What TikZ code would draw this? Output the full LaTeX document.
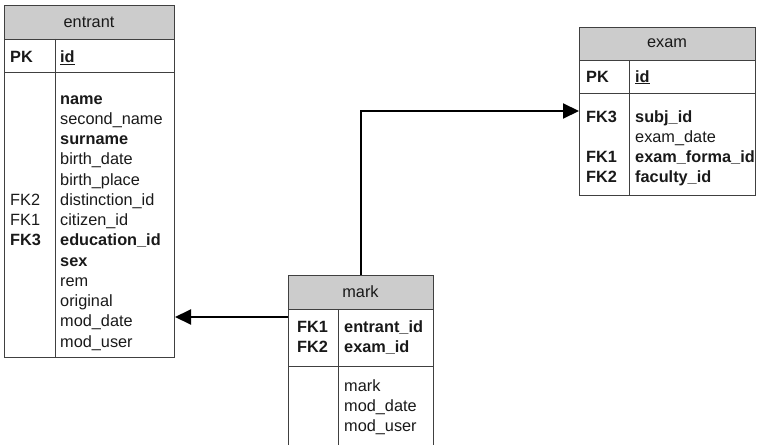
\documentclass[tikz,border=0pt]{standalone}
\usepackage{fontspec}
\setmainfont{Liberation Sans}
\usetikzlibrary{arrows.meta}
\begin{document}
\begin{tikzpicture}[x=1pt,y=-1pt,
  frame/.style={draw=black!75, line width=1pt, inner sep=0pt, anchor=north west},
  hdr/.style={frame, fill=black!20},
  txt/.style={inner sep=0pt, anchor=base west, text=black!90, font=\fontsize{16.3}{20}\selectfont},
  ttl/.style={txt, anchor=base},
  rule/.style={draw=black!75, line width=1pt},
  rel/.style={draw=black, line width=2pt, -{Triangle[length=16pt,width=15pt]}}]
\useasboundingbox (0,0) rectangle (759,444);

% ---------- entrant ----------
\node[hdr, minimum width=170pt, minimum height=34pt] (entH) at (4,5) {};
\node[frame, minimum width=170pt, minimum height=33pt] (entK) at (4,39) {};
\node[frame, minimum width=170pt, minimum height=285pt] (entB) at (4,72) {};
\draw[rule] ([xshift=51pt]entK.north west) -- ([xshift=51pt]entB.south west);
\node[ttl] (entT) at (89,28) {entrant};
\node[txt] (entPK) at (10,63) {\textbf{PK}};
\node[txt] (entId) at (60,63) {\textbf{\underline{id}}};
\foreach \t [count=\i from 0] in {\textbf{name},second\_name,\textbf{surname},birth\_date,birth\_place,distinction\_id,citizen\_id,\textbf{education\_id},\textbf{sex},rem,original,mod\_date,mod\_user}
  \node[txt] (entF\i) at (60,{104+20.25*\i}) {\t};
\node[txt] (entK2) at (10,{104+20.25*5}) {FK2};
\node[txt] (entK1) at (10,{104+20.25*6}) {FK1};
\node[txt] (entK3) at (10,{104+20.25*7}) {\textbf{FK3}};

% ---------- exam ----------
\node[hdr, minimum width=176pt, minimum height=33pt] (exH) at (579,27) {};
\node[frame, minimum width=176pt, minimum height=33pt] (exK) at (579,60) {};
\node[frame, minimum width=176pt, minimum height=102pt] (exB) at (579,93) {};
\draw[rule] ([xshift=50pt]exK.north west) -- ([xshift=50pt]exB.south west);
\node[ttl] (exT) at (667,48) {exam};
\node[txt] (exPK) at (586,82) {\textbf{PK}};
\node[txt] (exId) at (635,82) {\textbf{\underline{id}}};
\foreach \t [count=\i from 0] in {\textbf{subj\_id},exam\_date,\textbf{exam\_forma\_id},\textbf{faculty\_id}}
  \node[txt] (exF\i) at (635,{122+20*\i}) {\t};
\node[txt] (exK3) at (586,122) {\textbf{FK3}};
\node[txt] (exK1) at (586,162) {\textbf{FK1}};
\node[txt] (exK2) at (586,182) {\textbf{FK2}};

% ---------- mark ----------
\node[hdr, minimum width=145pt, minimum height=34pt] (mkH) at (288,275) {};
\node[frame, minimum width=145pt, minimum height=57pt] (mkK) at (288,309) {};
\node[frame, minimum width=145pt, minimum height=84pt] (mkB) at (288,366) {};
\draw[rule] ([xshift=50pt]mkK.north west) -- ([xshift=50pt]mkB.south west);
\node[ttl] (mkT) at (360.5,297) {mark};
\node[txt] (mkK1) at (297,332) {\textbf{FK1}};
\node[txt] (mkK2) at (297,352.5) {\textbf{FK2}};
\node[txt] (mkF0) at (344,332) {\textbf{entrant\_id}};
\node[txt] (mkF1) at (344,352.5) {\textbf{exam\_id}};
\foreach \t [count=\i from 0] in {mark,mod\_date,mod\_user}
  \node[txt] (mkG\i) at (344,{391+20.3*\i}) {\t};

% ---------- relations ----------
\draw[rel] ([yshift=-8pt]mkK.north west) -- ([yshift=-8pt]mkK.north west -| entB.east);
\draw[rel] (mkH.north) |- ([yshift=-18pt]exB.north west);
\end{tikzpicture}
\end{document}
